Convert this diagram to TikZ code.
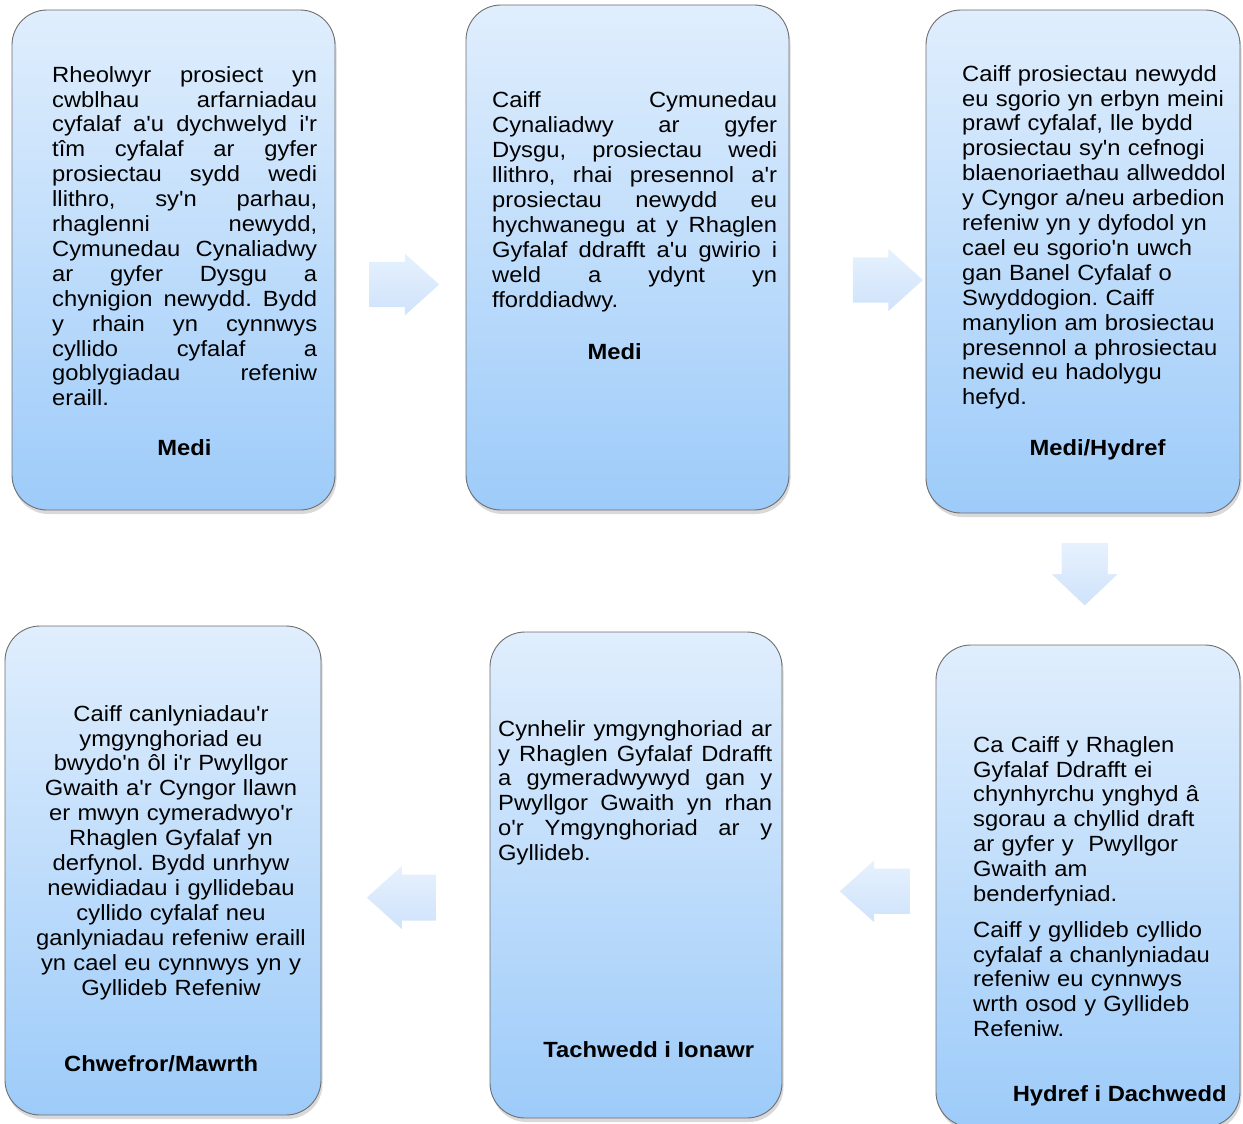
\documentclass[tikz,border=0pt]{standalone}
\usepackage{fontspec}
\setmainfont[FakeStretch=1.08,Ligatures={TeXOff,CommonOff}]{Liberation Sans}
\usetikzlibrary{calc}
\usetikzlibrary{shapes.arrows}
\usetikzlibrary{shadows}
\definecolor{boxtop}{HTML}{E0EEFD}
\definecolor{boxbottom}{HTML}{9DCBF9}
\definecolor{boxline}{HTML}{6E6E6E}
\definecolor{arrowtop}{HTML}{E6F1FD}
\definecolor{arrowbottom}{HTML}{CFE3FB}
\definecolor{arrowflat}{HTML}{DCE8F5}
\tikzstyle{stagebox}=[draw=boxline,line width=0.9pt,rounded corners=35pt,top color=boxtop,bottom color=boxbottom,
    drop shadow={opacity=0.3,shadow xshift=1.5pt,shadow yshift=-4pt}]
\tikzstyle{stagetext}=[anchor=north west,inner sep=0pt,align=left,font=\fontsize{22}{24.9}\selectfont\frenchspacing]
\tikzstyle{stagemonth}=[anchor=base,inner sep=0pt,font=\fontsize{22}{24.9}\selectfont\bfseries]
\tikzstyle{flowarrow}=[single arrow,anchor=tail,draw=none,inner xsep=0pt,inner ysep=19pt,minimum height=70pt,minimum width=62pt,
    single arrow tip angle=84,top color=arrowtop,bottom color=arrowbottom]
\newcommand{\jline}[1]{{\spaceskip=\fontdimen2\font plus 1fil\makebox[\linewidth][s]{#1}}} % one justified line

\begin{document}
\begin{tikzpicture}[x=1pt,y=-1pt]
\useasboundingbox (0,0) rectangle (1243,1124);
% the six stages
\node[stagebox,minimum width=323pt,minimum height=500pt] (stage1) at (173.5,260) {};
\node[stagebox,minimum width=323pt,minimum height=505pt] (stage2) at (627.5,257.5) {};
\node[stagebox,minimum width=314pt,minimum height=503pt] (stage3) at (1083,261.5) {};
\node[stagebox,minimum width=304pt,minimum height=482pt] (stage4) at (1088,886) {};
\node[stagebox,minimum width=292pt,minimum height=486pt] (stage5) at (636,875) {};
\node[stagebox,minimum width=316pt,minimum height=489pt] (stage6) at (163,870.5) {};
% arrows between them (placed by their tail)
\node[flowarrow] (arrow12) at (369,284.5) {};
\node[flowarrow] (arrow23) at (852.7,280) {};
\node[flowarrow,shape border rotate=270,inner xsep=16.5pt,inner ysep=0pt,minimum height=62pt,minimum width=65pt,
    single arrow tip angle=93,fill=arrowflat] (arrow34) at (1084.7,543) {};
\node[flowarrow,shape border rotate=180] (arrow45) at (910,891.3) {};
\node[flowarrow,shape border rotate=180,minimum height=69pt,minimum width=63pt] (arrow56) at (436,897.6) {};
% texts
\node[stagetext,text width=265pt] (text1) at (52,66) {%
\jline{Rheolwyr prosiect yn}\\
\jline{cwblhau arfarniadau}\\
\jline{cyfalaf a'u dychwelyd i'r}\\
\jline{tîm cyfalaf ar gyfer}\\
\jline{prosiectau sydd wedi}\\
\jline{llithro, sy'n parhau,}\\
\jline{rhaglenni newydd,}\\
\jline{Cymunedau Cynaliadwy}\\
\jline{ar gyfer Dysgu a}\\
\jline{chynigion newydd. Bydd}\\
\jline{y rhain yn cynnwys}\\
\jline{cyllido cyfalaf a}\\
\jline{goblygiadau refeniw}\\
eraill.};
\node[stagemonth] (month1) at (184.5,455) {Medi};
\node[stagetext,text width=285pt] (text2) at (492,91.7) {%
\jline{Caiff Cymunedau}\\
\jline{Cynaliadwy ar gyfer}\\
\jline{Dysgu, prosiectau wedi}\\
\jline{llithro, rhai presennol a'r}\\
\jline{prosiectau newydd eu}\\
\jline{hychwanegu at y Rhaglen}\\
\jline{Gyfalaf ddrafft a'u gwirio i}\\
\jline{weld a ydynt yn}\\
fforddiadwy.};
\node[stagemonth] (month2) at (614.7,359.3) {Medi};
\node[stagetext,text width=278pt] (text3) at (962,65) {%
Caiff prosiectau newydd\\
eu sgorio yn erbyn meini\\
prawf cyfalaf, lle bydd\\
prosiectau sy'n cefnogi\\
blaenoriaethau allweddol\\
y Cyngor a/neu arbedion\\
refeniw yn y dyfodol yn\\
cael eu sgorio'n uwch\\
gan Banel Cyfalaf o\\
Swyddogion. Caiff\\
manylion am brosiectau\\
presennol a phrosiectau\\
newid eu hadolygu\\
hefyd.};
\node[stagemonth] (month3) at (1097.5,455.7) {Medi/Hydref};
\node[stagetext,text width=262pt] (text4) at (973,736) {%
Ca Caiff y Rhaglen\\
Gyfalaf Ddrafft ei\\
chynhyrchu ynghyd â\\
sgorau a chyllid draft\\
ar gyfer y\ \ Pwyllgor\\
Gwaith am\\
benderfyniad.\\[10.7pt]
Caiff y gyllideb cyllido\\
cyfalaf a chanlyniadau\\
refeniw eu cynnwys\\
wrth osod y Gyllideb\\
Refeniw.};
\node[stagemonth] (month4) at (1119.7,1101.7) {Hydref i Dachwedd};
\node[stagetext,text width=274pt] (text5) at (498,720) {%
\jline{Cynhelir ymgynghoriad ar}\\
\jline{y Rhaglen Gyfalaf Ddrafft}\\
\jline{a gymeradwywyd gan y}\\
\jline{Pwyllgor Gwaith yn rhan}\\
\jline{o'r Ymgynghoriad ar y}\\
Gyllideb.};
\node[stagemonth] (month5) at (648.8,1057.7) {Tachwedd i Ionawr};
\node[stagetext,anchor=north,align=center,text width=300pt] (text6) at (171,705) {%
Caiff canlyniadau'r\\
ymgynghoriad eu\\
bwydo'n ôl i'r Pwyllgor\\
Gwaith a'r Cyngor llawn\\
er mwyn cymeradwyo'r\\
Rhaglen Gyfalaf yn\\
derfynol. Bydd unrhyw\\
newidiadau i gyllidebau\\
cyllido cyfalaf neu\\
ganlyniadau refeniw eraill\\
yn cael eu cynnwys yn y\\
Gyllideb Refeniw};
\node[stagemonth] (month6) at (161.2,1071) {Chwefror/Mawrth};
\end{tikzpicture}
\end{document}
